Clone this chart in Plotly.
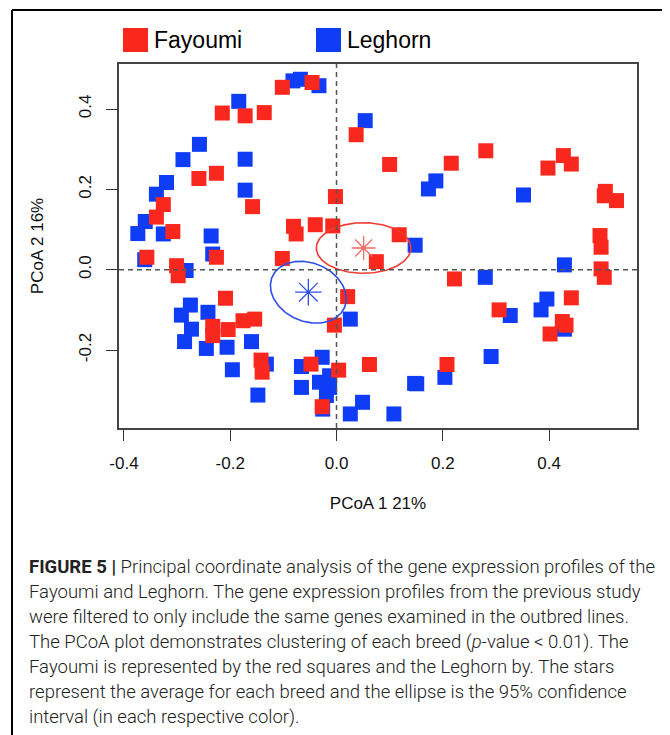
import numpy as np
import plotly.graph_objects as go

# ---------------- data ----------------
breeds = ["Fayoumi", "Leghorn"]

fay_x = [-0.102, -0.046, -0.215, -0.172, -0.136, -0.259, -0.226, -0.326, -0.339, -0.158,
         -0.308, -0.002, -0.081, -0.076, -0.040, -0.007, 0.037, 0.100, 0.281, 0.216,
         0.398, 0.427, 0.442, 0.506, 0.504, 0.527, 0.118, 0.496, 0.498, 0.075,
         0.498, 0.504, 0.222, 0.021, -0.004, 0.442, 0.306, 0.425, 0.432, 0.402,
         0.208, 0.062, 0.004, -0.357, -0.301, -0.298, -0.226, -0.102, -0.209, -0.233,
         -0.233, -0.204, -0.176, -0.154, -0.142, -0.140, -0.048, -0.027]
fay_y = [0.454, 0.466, 0.390, 0.383, 0.391, 0.227, 0.240, 0.162, 0.131, 0.157,
         0.095, 0.182, 0.108, 0.089, 0.112, 0.109, 0.336, 0.262, 0.296, 0.265,
         0.253, 0.284, 0.263, 0.195, 0.184, 0.172, 0.087, 0.085, 0.056, 0.020,
         0.002, -0.019, -0.023, -0.067, -0.138, -0.070, -0.100, -0.129, -0.138, -0.160,
         -0.236, -0.236, -0.250, 0.031, 0.010, -0.015, 0.031, 0.028, -0.071, -0.141,
         -0.164, -0.149, -0.127, -0.123, -0.225, -0.255, -0.235, -0.341]

leg_x = [-0.082, -0.068, -0.033, -0.184, -0.258, -0.289, -0.172, -0.320, -0.339, -0.172,
         -0.360, -0.374, -0.326, -0.236, 0.054, 0.187, 0.173, 0.352, 0.148, 0.429,
         0.280, 0.026, 0.396, 0.385, 0.327, 0.429, 0.291, 0.204, 0.147, 0.151,
         0.049, 0.026, 0.108, -0.361, -0.283, -0.233, -0.275, -0.292, -0.242, -0.273,
         -0.286, -0.245, -0.206, -0.160, -0.196, -0.132, -0.148, -0.066, -0.027, -0.066,
         -0.032, -0.013, -0.019, -0.026, -0.013]
leg_y = [0.470, 0.474, 0.458, 0.419, 0.312, 0.274, 0.275, 0.217, 0.188, 0.198,
         0.120, 0.090, 0.089, 0.084, 0.371, 0.221, 0.201, 0.186, 0.061, 0.012,
         -0.019, -0.123, -0.073, -0.100, -0.114, -0.148, -0.216, -0.268, -0.283, -0.284,
         -0.330, -0.359, -0.359, 0.025, -0.002, 0.039, -0.088, -0.113, -0.106, -0.148,
         -0.179, -0.196, -0.193, -0.179, -0.249, -0.235, -0.312, -0.241, -0.218, -0.293,
         -0.280, -0.264, -0.313, -0.347, -0.293]

# breed averages (stars) and 95% confidence ellipses
mean_x = [0.051, -0.053]
mean_y = [0.054, -0.056]
ell_sx = [0.089, 0.0714]
ell_sy = [0.063, 0.077]
ell_rho = [0.0, -0.21]

x_ticks = [-0.4, -0.2, 0.0, 0.2, 0.4]
y_ticks = [-0.2, 0.0, 0.2, 0.4]
x_title = "PCoA 1 21%"
y_title = "PCoA 2 16%"

caption_lines = [
    "<b>FIGURE 5 |</b> Principal coordinate analysis of the gene expression profiles of the",
    "Fayoumi and Leghorn. The gene expression profiles from the previous study",
    "were filtered to only include the same genes examined in the outbred lines.",
    "The PCoA plot demonstrates clustering of each breed (<i>p</i>-value &lt; 0.01). The",
    "Fayoumi is represented by the red squares and the Leghorn by. The stars",
    "represent the average for each breed and the ellipse is the 95% confidence",
    "interval (in each respective color).",
]

# ---------------- styling ----------------
RED = "#F8281E"
BLUE = "#0F3DF5"
RED_LINE = "#F03A32"
RED_STAR = "#F26A62"
BLUE_LINE = "#2E4FEA"
OFF = 8                      # page offset of the plot div inside the browser window
W, H = 670 - OFF, 735 - OFF
# plot box, in window pixels, converted to figure pixels
PL, PR, PT, PB = 119 - OFF, 637 - OFF, 64 - OFF, 428 - OFF
X_RANGE = [-0.4094, 0.5656]
Y_RANGE = [-0.394, 0.512]
FONT = "Liberation Sans, Arial, Helvetica, sans-serif"


def px(xw):
    """window x pixel -> paper x"""
    return (xw - OFF - PL) / (PR - PL)


def py(yw):
    """window y pixel -> paper y"""
    return (PB - (yw - OFF)) / (PB - PT)


fig = go.Figure()

fig.add_trace(go.Scatter(x=leg_x, y=leg_y, mode="markers", name=breeds[1], showlegend=False,
                         marker=dict(symbol="square", size=15, color=BLUE, line=dict(width=0))))
fig.add_trace(go.Scatter(x=fay_x, y=fay_y, mode="markers", name=breeds[0], showlegend=False,
                         marker=dict(symbol="square", size=15, color=RED, line=dict(width=0))))

t = np.linspace(0, 2 * np.pi, 200)
line_cols = [RED_LINE, BLUE_LINE]
star_cols = [RED_STAR, BLUE_LINE]
star_sizes = [20, 22]
for i in range(2):
    ex = mean_x[i] + ell_sx[i] * np.cos(t)
    ey = mean_y[i] + ell_sy[i] * (ell_rho[i] * np.cos(t) + np.sqrt(1 - ell_rho[i] ** 2) * np.sin(t))
    fig.add_trace(go.Scatter(x=ex, y=ey, mode="lines", showlegend=False, hoverinfo="skip",
                             line=dict(color=line_cols[i], width=1.6)))
    fig.add_trace(go.Scatter(x=[mean_x[i]], y=[mean_y[i]], mode="markers", showlegend=False,
                             name=breeds[i] + " mean",
                             marker=dict(symbol="asterisk-open", size=star_sizes[i],
                                         color=star_cols[i],
                                         line=dict(color=star_cols[i], width=1.3))))

shapes = []
# dashed reference lines
shapes.append(dict(type="line", xref="x", yref="paper", x0=0, x1=0, y0=0, y1=1,
                   line=dict(color="#555555", width=1.5, dash="5px,4px")))
shapes.append(dict(type="line", xref="paper", yref="paper", x0=0, x1=1, y0=0, y1=0,
                   yref2=None) if False else
              dict(type="line", xref="paper", yref="y", x0=0, x1=1, y0=0, y1=0,
                   line=dict(color="#555555", width=1.5, dash="5px,4px")))
# outer figure frame
shapes.append(dict(type="line", xref="paper", yref="paper", x0=px(12), x1=px(680), y0=py(10), y1=py(10),
                   line=dict(color="black", width=2)))
shapes.append(dict(type="line", xref="paper", yref="paper", x0=px(12), x1=px(12), y0=py(10), y1=py(745),
                   line=dict(color="black", width=2)))
# legend squares
for xl, col in [(123, RED), (316, BLUE)]:
    shapes.append(dict(type="rect", xref="paper", yref="paper", x0=px(xl), x1=px(xl + 25),
                       y0=py(52), y1=py(28), fillcolor=col, line=dict(width=0)))

annotations = []
for xt, txt in [(152, breeds[0]), (345, breeds[1])]:
    annotations.append(dict(x=px(xt), y=py(40), xref="paper", yref="paper", text=txt,
                            showarrow=False, xanchor="left", yanchor="middle",
                            font=dict(family=FONT, size=23, color="black")))
for k, line in enumerate(caption_lines):
    annotations.append(dict(x=px(27), y=py(567 + 25 * k), xref="paper", yref="paper", text=line,
                            showarrow=False, xanchor="left", yanchor="middle", align="left",
                            font=dict(family="Roboto, Liberation Sans, sans-serif", size=18.5,
                                      color="#222222", weight=300)))

fig.update_layout(
    width=W, height=H,
    margin=dict(l=PL, r=W - PR, t=PT, b=H - PB, pad=0),
    paper_bgcolor="white", plot_bgcolor="white",
    showlegend=False,
    font=dict(family=FONT, size=17, color="#111111"),
    shapes=shapes, annotations=annotations,
    xaxis=dict(range=X_RANGE, tickvals=x_ticks, ticktext=[f"{v:.1f}" for v in x_ticks],
               showgrid=False, zeroline=False, showline=True, mirror=True,
               linecolor="#444444", linewidth=1.5, ticks="outside", ticklen=11,
               tickwidth=1.3, tickcolor="#333333", ticklabelstandoff=8,
               title=dict(text=x_title, standoff=25, font=dict(size=17))),
    yaxis=dict(range=Y_RANGE, tickvals=y_ticks, ticktext=[f"{v:.1f}" for v in y_ticks],
               showgrid=False, zeroline=False, showline=True, mirror=True,
               linecolor="#444444", linewidth=1.5, ticks="outside", ticklen=11,
               tickwidth=1.3, tickcolor="#333333", tickangle=-90, ticklabelstandoff=8,
               title=dict(text=y_title, standoff=29, font=dict(size=17))),
)

fig.write_html("out.html")
